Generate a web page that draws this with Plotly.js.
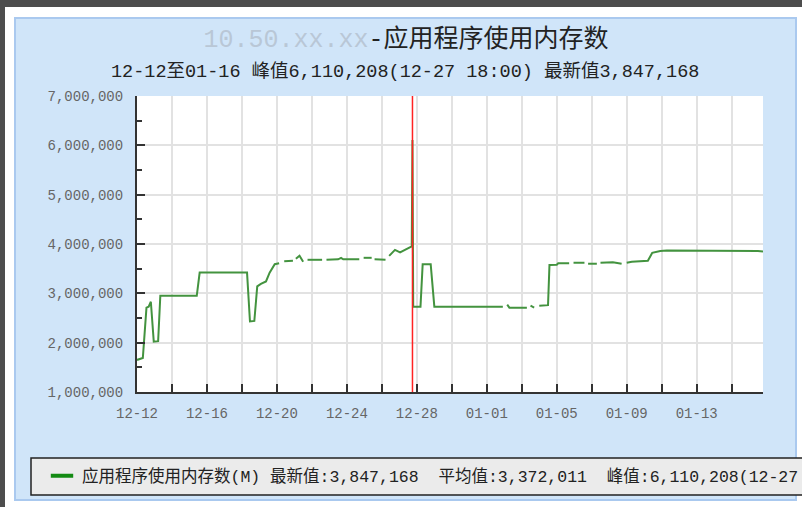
<!DOCTYPE html>
<html>
<head>
<meta charset="utf-8">
<script src="https://cdn.plot.ly/plotly-3.0.1.min.js"></script>
<style>html,body{margin:0;padding:0;background:#fff;}#chart{width:802px;height:507px;}</style>
</head>
<body>
<div id="chart"></div>
<script>
// ---- data ----
const times = [
  '2023-12-12 00:00','2023-12-12 08:00','2023-12-12 13:00','2023-12-12 16:00','2023-12-12 19:00',
  '2023-12-12 23:00','2023-12-13 05:00','2023-12-13 08:00','2023-12-15 10:00','2023-12-15 14:00',
  '2023-12-18 07:00','2023-12-18 11:00','2023-12-18 17:00','2023-12-18 21:00','2023-12-19 02:00',
  '2023-12-19 09:00','2023-12-19 14:00','2023-12-19 21:00','2023-12-20 03:00','2023-12-20 06:00',
  '2023-12-20 10:00','2023-12-20 22:00','2023-12-21 00:00','2023-12-21 02:00','2023-12-21 07:00',
  '2023-12-21 12:00','2023-12-21 14:00','2023-12-21 18:00','2023-12-22 14:00','2023-12-22 17:00',
  '2023-12-22 20:00','2023-12-23 12:00','2023-12-23 16:00','2023-12-23 19:00','2023-12-24 17:00',
  '2023-12-24 19:00','2023-12-24 23:00','2023-12-25 10:00','2023-12-25 12:00','2023-12-25 14:00',
  '2023-12-26 05:00','2023-12-26 07:00','2023-12-26 10:00','2023-12-26 18:00','2023-12-27 01:00',
  '2023-12-27 07:00','2023-12-27 14:00','2023-12-27 17:00','2023-12-27 18:00','2023-12-27 19:00',
  '2023-12-28 05:00','2023-12-28 08:00','2023-12-28 19:00','2023-12-29 00:00','2024-01-01 22:00',
  '2024-01-02 00:00','2024-01-02 04:00','2024-01-02 07:00','2024-01-03 07:00','2024-01-03 10:00',
  '2024-01-03 12:00','2024-01-03 17:00','2024-01-03 19:00','2024-01-04 00:00','2024-01-04 12:00',
  '2024-01-04 14:00','2024-01-05 00:00','2024-01-05 02:00','2024-01-05 17:00','2024-01-05 20:00',
  '2024-01-05 23:00','2024-01-06 14:00','2024-01-06 16:00','2024-01-06 19:00','2024-01-07 07:00',
  '2024-01-07 10:00','2024-01-07 12:00','2024-01-08 00:00','2024-01-08 05:00','2024-01-08 17:00',
  '2024-01-08 20:00','2024-01-09 00:00','2024-01-09 07:00','2024-01-10 05:00','2024-01-10 11:00',
  '2024-01-10 22:00','2024-01-11 07:00','2024-01-16 12:00','2024-01-16 19:00'
];
const memoryValues = [
  1650000,1690000,2710000,2730000,2830000,
  2020000,2030000,2950000,2950000,3420000,
  3420000,2430000,2440000,3140000,3190000,
  3240000,3420000,3590000,3610000,null,
  3650000,3660000,null,3700000,3760000,
  3640000,null,3680000,3680000,null,
  3680000,3690000,3720000,3690000,3690000,
  null,3720000,3720000,null,3690000,
  3680000,null,3760000,3880000,3830000,
  3880000,3930000,3950000,6110208,2730000,
  2730000,3590000,3590000,2730000,2730000,
  null,2770000,2710000,2710000,null,
  2750000,2710000,null,2750000,2760000,
  3575000,3580000,3610000,3610000,null,
  3620000,3620000,null,3600000,3600000,
  null,3620000,3620000,3630000,3600000,
  null,3620000,3640000,3660000,3820000,
  3860000,3866000,3860000,3847168
];
const seriesName = '应用程序使用内存数(M)';
const latestValue = 3847168;
const averageValue = 3372011;
const peakValue = 6110208;
const peakTime = '2023-12-27 18:00';
const peakLabel = '12-27 18:00';
const rangeLabel = '12-12至01-16';
const hostLabel = '10.50.xx.xx';
const titleMain = '-应用程序使用内存数';
const yTicks = [1000000,2000000,3000000,4000000,5000000,6000000,7000000];
const xStart = '2023-12-12 00:00';
const xEnd = '2024-01-16 19:00';

// ---- layout helpers ----
const W = 802, H = 507;
const M = {l:137, r:39, t:96, b:115};
const PW = W - M.l - M.r, PH = H - M.t - M.b;
const px = v => (v - M.l) / PW;
const py = v => (H - M.b - v) / PH;
const fmt = n => n.toLocaleString('en-US');

const monoCJK = 'Liberation Mono, Noto Sans CJK SC, sans-serif';

const traces = [
  {
    x: times, y: memoryValues, type: 'scatter', mode: 'lines',
    line: {color: '#43933f', width: 2}, connectgaps: false,
    showlegend: false, hoverinfo: 'skip'
  },
  {
    x: [null], y: [null], type: 'scatter', mode: 'markers',
    marker: {symbol: 'line-ew', size: 16, line: {color: '#138a13', width: 4}},
    name: seriesName + ' 最新值:' + fmt(latestValue) + '  平均值:' + fmt(averageValue) +
          '  峰值:' + fmt(peakValue) + '(' + peakLabel + ')',
    showlegend: true, hoverinfo: 'skip'
  }
];

const layout = {
  width: W, height: H,
  margin: {l: M.l, r: M.r, t: M.t, b: M.b, autoexpand: false},
  paper_bgcolor: '#ffffff',
  plot_bgcolor: '#ffffff',
  showlegend: true,
  title: {
    text: '<span style="color:#b9c7d6">' + hostLabel + '</span>' + titleMain,
    font: {family: monoCJK, size: 25, color: '#222222'},
    xref: 'container', x: 406 / W, xanchor: 'center',
    yref: 'container', y: 1 - 38 / H, yanchor: 'middle'
  },
  annotations: [{
    text: rangeLabel + ' 峰值' + fmt(peakValue) + '(' + peakLabel + ') 最新值' + fmt(latestValue),
    xref: 'paper', yref: 'paper', x: px(405), y: py(72),
    xanchor: 'center', yanchor: 'middle', showarrow: false,
    font: {family: monoCJK, size: 18.5, color: '#222222'}
  }],
  xaxis: {
    type: 'date', range: [xStart, xEnd],
    tick0: xStart, dtick: 4 * 86400000, tickformat: '%m-%d',
    showgrid: true, gridcolor: '#e2e2e2', gridwidth: 2,
    minor: {dtick: 2 * 86400000, showgrid: true, gridcolor: '#e2e2e2', gridwidth: 2,
            ticks: 'inside', ticklen: 8, tickwidth: 2, tickcolor: '#333333'},
    ticks: 'inside', ticklen: 8, tickwidth: 2, tickcolor: '#333333',
    showline: true, linecolor: '#333333', linewidth: 2,
    zeroline: false,
    tickfont: {family: monoCJK, size: 14, color: '#666666'},
    ticklabelstandoff: 7,
    fixedrange: true
  },
  yaxis: {
    range: [1000000, 7000000], tickvals: yTicks, tickformat: ',d',
    showgrid: true, gridcolor: '#e2e2e2', gridwidth: 2,
    minor: {dtick: 500000, tick0: 1000000, showgrid: false, ticks: 'inside', ticklen: 5, tickwidth: 2, tickcolor: '#333333'},
    ticks: 'inside', ticklen: 8, tickwidth: 2, tickcolor: '#333333',
    showline: true, linecolor: '#333333', linewidth: 2,
    zeroline: false,
    tickfont: {family: monoCJK, size: 14, color: '#666666'},
    ticklabelstandoff: 9,
    fixedrange: true
  },
  legend: {
    x: px(42), xanchor: 'left', y: py(476), yanchor: 'middle',
    bgcolor: 'rgba(0,0,0,0)', borderwidth: 0,
    font: {family: monoCJK, size: 16.5, color: '#222222'}
  },
  shapes: [
    {type: 'rect', layer: 'below', xref: 'paper', yref: 'paper',
     x0: px(-5), x1: px(W + 5), y0: py(-5), y1: py(7), fillcolor: '#4d4d4d', line: {width: 0}},
    {type: 'rect', layer: 'below', xref: 'paper', yref: 'paper',
     x0: px(-5), x1: px(5), y0: py(H + 5), y1: py(-5), fillcolor: '#4d4d4d', line: {width: 0}},
    {type: 'rect', layer: 'below', xref: 'paper', yref: 'paper',
     x0: px(15), x1: px(796), y0: py(500), y1: py(18), fillcolor: '#d0e5f9', line: {color: '#aac9ef', width: 2}},
    {type: 'rect', layer: 'below', xref: 'paper', yref: 'paper',
     x0: 0, x1: 1, y0: 0, y1: 1, fillcolor: '#ffffff', line: {width: 0}},
    {type: 'rect', layer: 'below', xref: 'paper', yref: 'paper',
     x0: px(31), x1: px(W + 40), y0: py(495), y1: py(458), fillcolor: '#ebebeb', line: {color: '#222222', width: 1.5}},
    {type: 'line', layer: 'above', xref: 'x', yref: 'paper',
     x0: peakTime, x1: peakTime, y0: 0, y1: 1, line: {color: '#ff2222', width: 1.5}}
  ]
};

Plotly.newPlot('chart', traces, layout, {displayModeBar: false, staticPlot: true});
</script>
</body>
</html>
